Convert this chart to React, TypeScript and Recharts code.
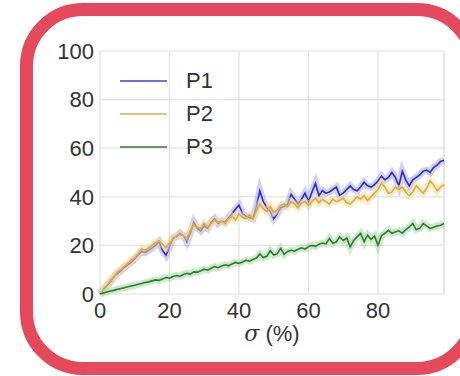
import React from "react"
import {
  CartesianGrid,
  Line,
  LineChart,
  ReferenceLine,
  XAxis,
  YAxis,
} from "recharts"

// one sample per sigma step (0..99 %)
const P1 = [
  0, 2, 3.5, 5, 7, 8.5, 9.5, 11, 12, 13,
  14.5, 16, 17.5, 17, 18, 19, 20, 21.5, 18, 16,
  19.5, 23, 23.5, 25, 24, 21.5, 25, 29.5, 27, 26,
  28, 27, 29.5, 31, 29, 30, 29.5, 31.5, 33, 35,
  36.5, 33, 32, 31.5, 31, 36, 42.5, 38, 35.5, 34,
  31, 33, 35.5, 36, 37, 41, 39, 37, 39, 41.5,
  38, 42, 45.5, 40.5, 42.5, 41.5, 42, 43, 44, 40.5,
  41.5, 43, 44.5, 43, 42.5, 44, 46, 44.5, 44, 45,
  46.5, 48.5, 47, 48, 50, 48, 44.5, 50.5, 47, 44.5,
  47, 48, 49, 50.5, 51, 50, 52, 53, 54.5, 55,
]
const P2 = [
  0, 2, 3.5, 5.5, 7, 9, 10, 11.5, 12.5, 14,
  15, 16.5, 18.5, 18, 19, 20, 21, 22, 20.5, 19,
  21, 22.5, 24, 24.5, 24, 23, 26, 28.5, 27.5, 27,
  29, 27.5, 29, 30.5, 29.5, 30, 29, 31, 32, 30.5,
  33, 31.5, 31, 32.5, 31, 34, 37, 35, 34, 36,
  33.5, 34.5, 36.5, 37, 36, 38, 37, 35.5, 37.5, 38,
  36.5, 38, 39.5, 37.5, 39, 38, 37, 39, 38, 38.5,
  39.5, 37.5, 37, 38.5, 40, 39, 40.5, 38.5, 40, 41.5,
  43, 45.5, 44, 41.5, 42, 44, 43, 44, 42, 40.5,
  42, 44.5, 43, 41.5, 43.5, 46.5, 45, 42.5, 44, 45,
]
const P3 = [
  0, 0.4, 0.8, 1.2, 1.5, 1.9, 2.3, 2.6, 3, 3.3,
  3.6, 4, 4.3, 4.7, 5, 5.4, 5.8, 5.6, 6.2, 6.8,
  6.5, 7.2, 7.6, 7.3, 8, 8.5, 8.2, 9.1, 9, 9.6,
  10.2, 9.8, 10.6, 11.3, 10.8, 11.5, 12, 11.6, 12.4, 13,
  12.6, 13.2, 13.9, 13.5, 14.2, 14.8, 16.5, 15, 15.5, 17.8,
  16, 16.5, 18.8, 16.3, 17.5, 18, 17.6, 18.4, 19, 18.5,
  19.5, 20, 19.6, 20.5, 21, 20.6, 22.8, 20.9, 21.5, 23.5,
  22, 23, 19.4, 22, 23.5, 24.9, 21.5, 24.2, 22.5, 23.8,
  20.1, 24, 25, 26.2, 25, 25.5, 26, 25, 26.5, 27.5,
  29, 26.5, 27, 29, 28, 27, 27.5, 28, 28.3, 29,
]

const xTicks = [0, 20, 40, 60, 80]
const yTicks = [0, 20, 40, 60, 80, 100]

const series = [
  { key: "P1", line: "#2b2bc8", band: "#a9a9f0", legend: "#6f6fd6" },
  { key: "P2", line: "#e5a83c", band: "#f6df9a", legend: "#e6c275" },
  { key: "P3", line: "#2e7a2e", band: "#9fdc9f", legend: "#5c9a5c" },
]

const data = P1.map((v, i) => ({ sigma: i, P1: v, P2: P2[i], P3: P3[i] }))

const FONT = "'Liberation Sans', Arial, sans-serif"
const TEXT = "#333"
const GRID = "#e2e2e2"

// drawn as an overlay so it doesn't eat into the plot height
function LegendBox() {
  return (
    <div style={{ position: "absolute", left: 120, top: 64, fontFamily: FONT, fontSize: 22, color: TEXT }}>
      {series.map((s) => (
        <div key={s.key} style={{ display: "flex", alignItems: "center", height: 33 }}>
          <div style={{ width: 47, height: 2, background: s.legend, marginRight: 19 }} />
          <span>{s.key}</span>
        </div>
      ))}
    </div>
  )
}

function XTitle(props: any) {
  const vb = props.viewBox || { x: 100, width: 344 }
  return (
    <text
      x={vb.x + vb.width / 2}
      y={333}
      textAnchor="middle"
      dominantBaseline="central"
      fill={TEXT}
      fontFamily={FONT}
      fontSize={22}
    >
      <tspan fontStyle="italic" fontFamily="'DejaVu Serif', serif">σ</tspan>
      <tspan> (%)</tspan>
    </text>
  )
}

export default function App() {
  return (
    <div style={{ position: "absolute", left: 0, top: 0, width: 460, height: 376, background: "#fff", overflow: "hidden" }}>
      <div
        style={{
          position: "absolute",
          left: 20,
          top: 3,
          width: 460,
          height: 372,
          boxSizing: "border-box",
          border: "13px solid #e6495b",
          borderRadius: 63,
        }}
      />
      <div style={{ position: "absolute", left: 0, top: 0 }}>
        <LineChart width={460} height={376} data={data} margin={{ top: 51, right: 16, bottom: 32, left: 0 }}>
          <CartesianGrid stroke={GRID} strokeWidth={1.2} />
          <XAxis
            dataKey="sigma"
            type="number"
            domain={[0, 99]}
            ticks={xTicks}
            axisLine={false}
            tickLine={false}
            tickSize={6}
            tickMargin={2}
            height={50}
            tick={{ fill: TEXT, fontFamily: FONT, fontSize: 22 }}
            label={<XTitle />}
          />
          <YAxis
            type="number"
            domain={[0, 100]}
            ticks={yTicks}
            axisLine={false}
            tickLine={false}
            tickSize={6}
            tickMargin={0}
            width={100}
            interval={0}
            tick={{ fill: TEXT, fontFamily: FONT, fontSize: 22 }}
          />
          <ReferenceLine x={99} stroke={GRID} strokeWidth={1.2} />
          {series.flatMap((s) => [
            <Line
              key={s.key + "-band"}
              dataKey={s.key}
              stroke={s.band}
              strokeOpacity={0.55}
              strokeWidth={7}
              dot={false}
              activeDot={false}
              legendType="none"
              isAnimationActive={false}
            />,
            <Line
              key={s.key}
              dataKey={s.key}
              stroke={s.line}
              strokeWidth={1.6}
              dot={false}
              activeDot={false}
              isAnimationActive={false}
            />,
          ])}
        </LineChart>
      </div>
      <LegendBox />
    </div>
  )
}
